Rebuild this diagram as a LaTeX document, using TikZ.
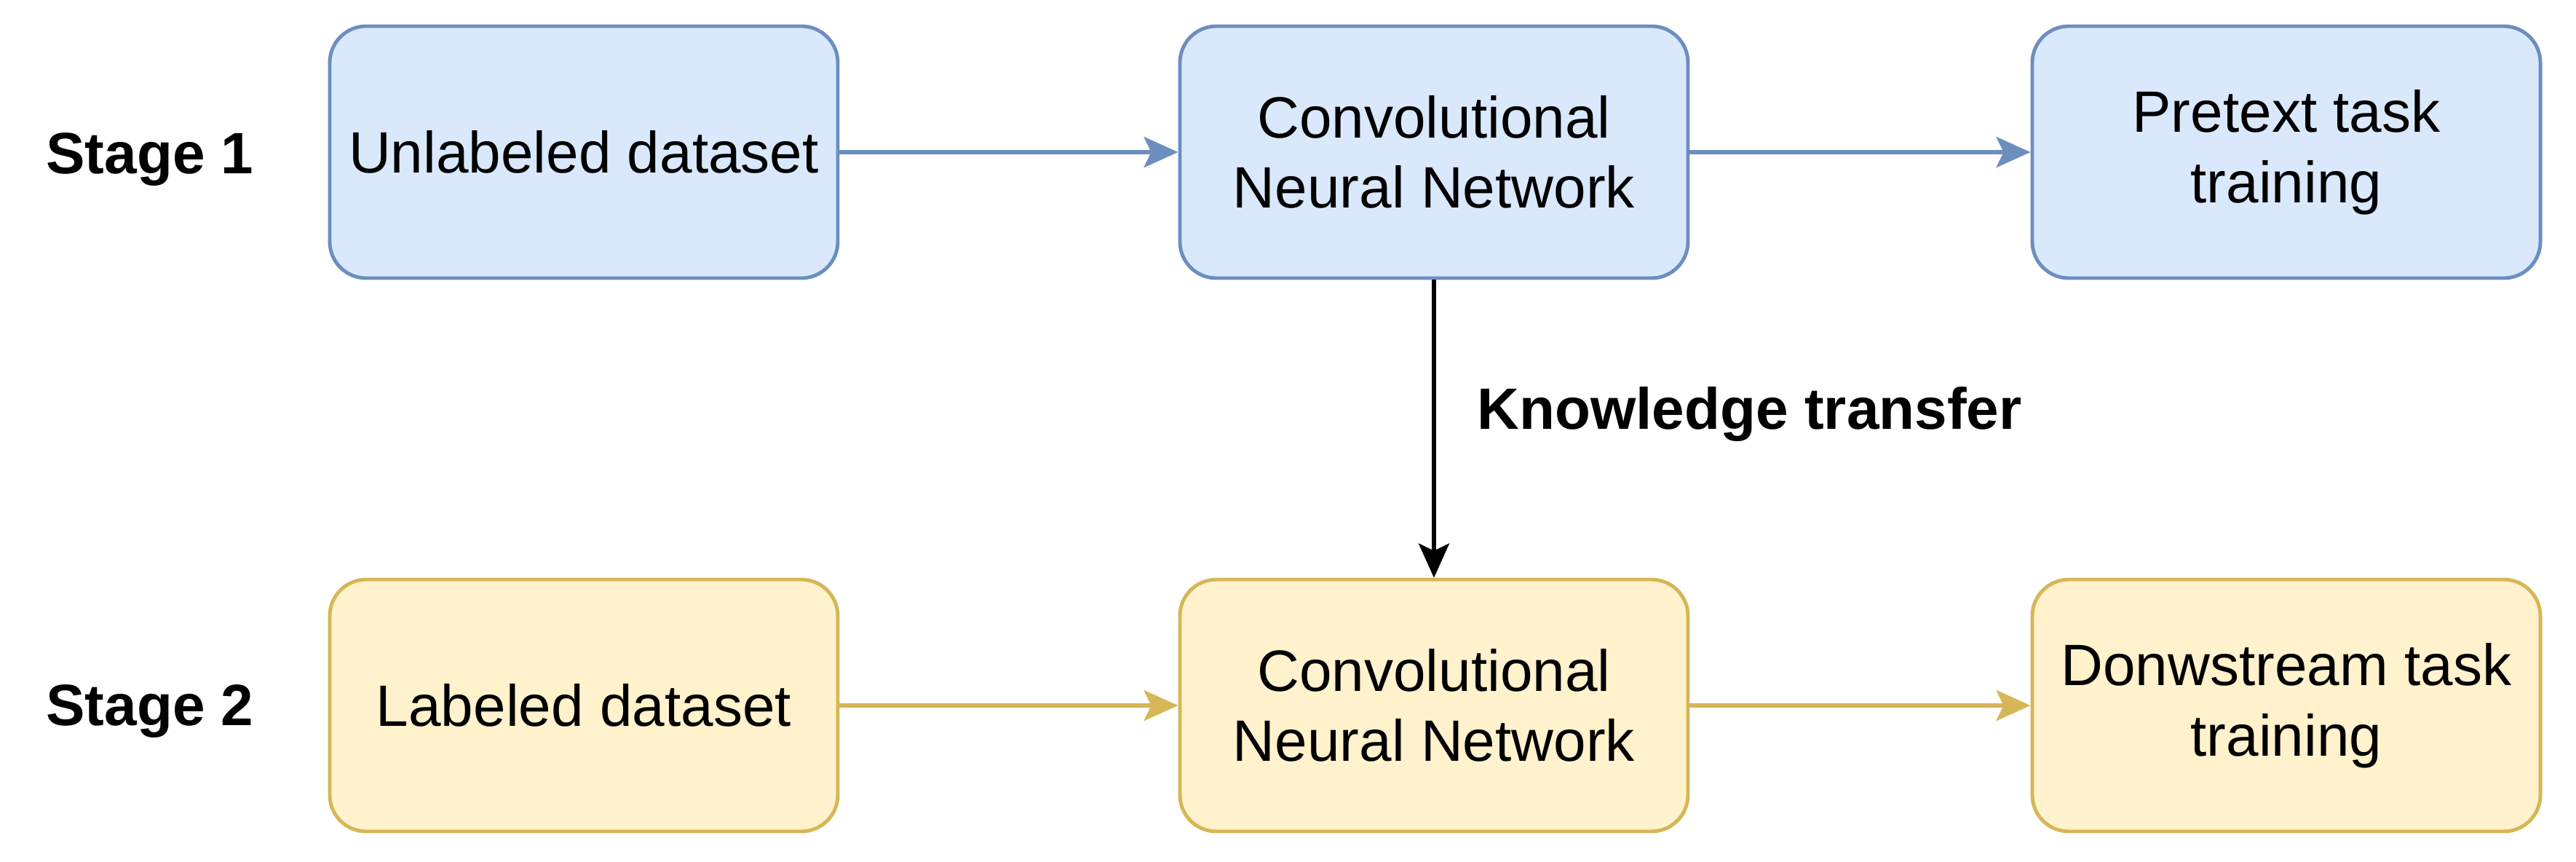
\documentclass[tikz,border=0pt]{standalone}
\usepackage{fontspec}
\setmainfont{Liberation Sans}
\usetikzlibrary{arrows.meta}

\definecolor{blueFill}{HTML}{DAE8FC}
\definecolor{blueLine}{HTML}{6C8EBF}
\definecolor{yellowFill}{HTML}{FFF2CC}
\definecolor{yellowLine}{HTML}{D6B656}

\tikzset{
	box/.style={shape=rectangle, rounded corners=0.5cm, line width=1.4pt,
		minimum width=6.98cm, minimum height=3.46cm, align=center,
		font=\fontsize{22.8}{27.5}\selectfont},
	bluebox/.style={box, draw=blueLine, fill=blueFill},
	yellowbox/.style={box, draw=yellowLine, fill=yellowFill},
	stagelabel/.style={font=\fontsize{22.8}{27.5}\selectfont\bfseries},
	flow/.style={line width=1.6pt, -{Stealth[length=0.47cm, width=0.42cm, inset=0.1cm]}}
}

\begin{document}
\begin{tikzpicture}
	
	\useasboundingbox (0,0) rectangle (35.39,-11.83);
	
	\node[stagelabel] (s1) at (2.06,-2.19) {Stage 1};
	\node[stagelabel] (s2) at (2.06,-9.77) {Stage 2};
	
	\node[bluebox] (unlab) at (8.02,-2.09)  {Unlabeled dataset};
	\node[bluebox] (cnn1)  at (19.70,-2.09) {Convolutional\\Neural Network};
	\node[bluebox] (pre)   at (31.41,-2.09) {Pretext task\\training};
	
	\node[yellowbox] (lab)  at (8.02,-9.69)  {Labeled dataset};
	\node[yellowbox] (cnn2) at (19.70,-9.69) {Convolutional\\Neural Network};
	\node[yellowbox] (down) at (31.41,-9.69) {Donwstream task\\training};
	
	\path[flow, color=blueLine] (unlab) edge (cnn1);
	\path[flow, color=blueLine] (cnn1) edge (pre);
	\path[flow, color=yellowLine] (lab) edge (cnn2);
	\path[flow, color=yellowLine] (cnn2) edge (down);
	\path[flow, color=black] (cnn1) edge node[pos=0.45, right, xshift=0.45cm, stagelabel]{Knowledge transfer} (cnn2);
	
\end{tikzpicture}
\end{document}
